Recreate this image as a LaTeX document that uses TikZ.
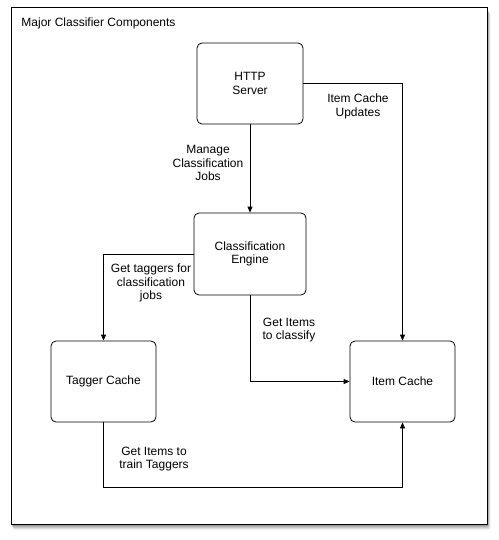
\documentclass[tikz,border=0pt]{standalone}
\usepackage{fontspec}
\setmainfont{Liberation Sans}
\usetikzlibrary{arrows.meta}
\begin{document}
\begin{tikzpicture}[x=1pt,y=-1pt,
  comp/.style={draw,thick,rounded corners=5pt,align=center,inner sep=0pt,font=\fontsize{12}{13.6}\selectfont},
  lbl/.style={align=center,inner sep=0pt,font=\fontsize{12}{13.6}\selectfont},
  conn/.style={thick,-{Triangle[length=6pt,width=5pt]}},
  line width=0.9pt]
\useasboundingbox (0,0) rectangle (498,540);
% shadow
\foreach \o/\op in {6/0.05,5/0.07,4/0.09,3/0.12,2/0.15}{
  \fill[black,opacity=\op,rounded corners=2pt] (11+\o*0.3,7+\o) rectangle (487+\o*0.6,524+\o);
}
\node[draw,fill=white,line width=1pt,inner sep=0pt,minimum width=476,minimum height=517,anchor=north west] (frame) at (11,7) {};
\node[lbl,anchor=west] (title) at (21,23) {Major Classifier Components};

\node[comp,minimum width=106,minimum height=81] (http) at (250,83.5) {HTTP\\Server};
\node[comp,minimum width=112,minimum height=82] (ce) at (250,254) {Classification\\Engine};
\node[comp,minimum width=105,minimum height=81] (tc) at (103.5,381.5) {Tagger Cache};
\node[comp,minimum width=105,minimum height=81] (ic) at (402.5,381.5) {Item Cache};

\coordinate (bot) at (250,487);

\draw[conn] (http.south) -- (ce.north);
\draw[conn] (http.east) -| (ic.north);
\draw[conn] (ce.west) -| (tc.north);
\draw[conn] (ce.south) |- (ic.west);
\draw[conn] (tc.south) -- (tc.south |- bot) -- (ic.south |- bot) -- (ic.south);

\node[lbl] (l1) at (208,163) {Manage\\Classification\\Jobs};
\node[lbl] (l2) at (358,106.5) {Item Cache\\Updates};
\node[lbl] (l3) at (151,283) {Get taggers for\\classification\\jobs};
\node[lbl] (l4) at (289,330) {Get Items\\to classify};
\node[lbl] (l5) at (154,459) {Get Items to\\train Taggers};
\end{tikzpicture}
\end{document}
